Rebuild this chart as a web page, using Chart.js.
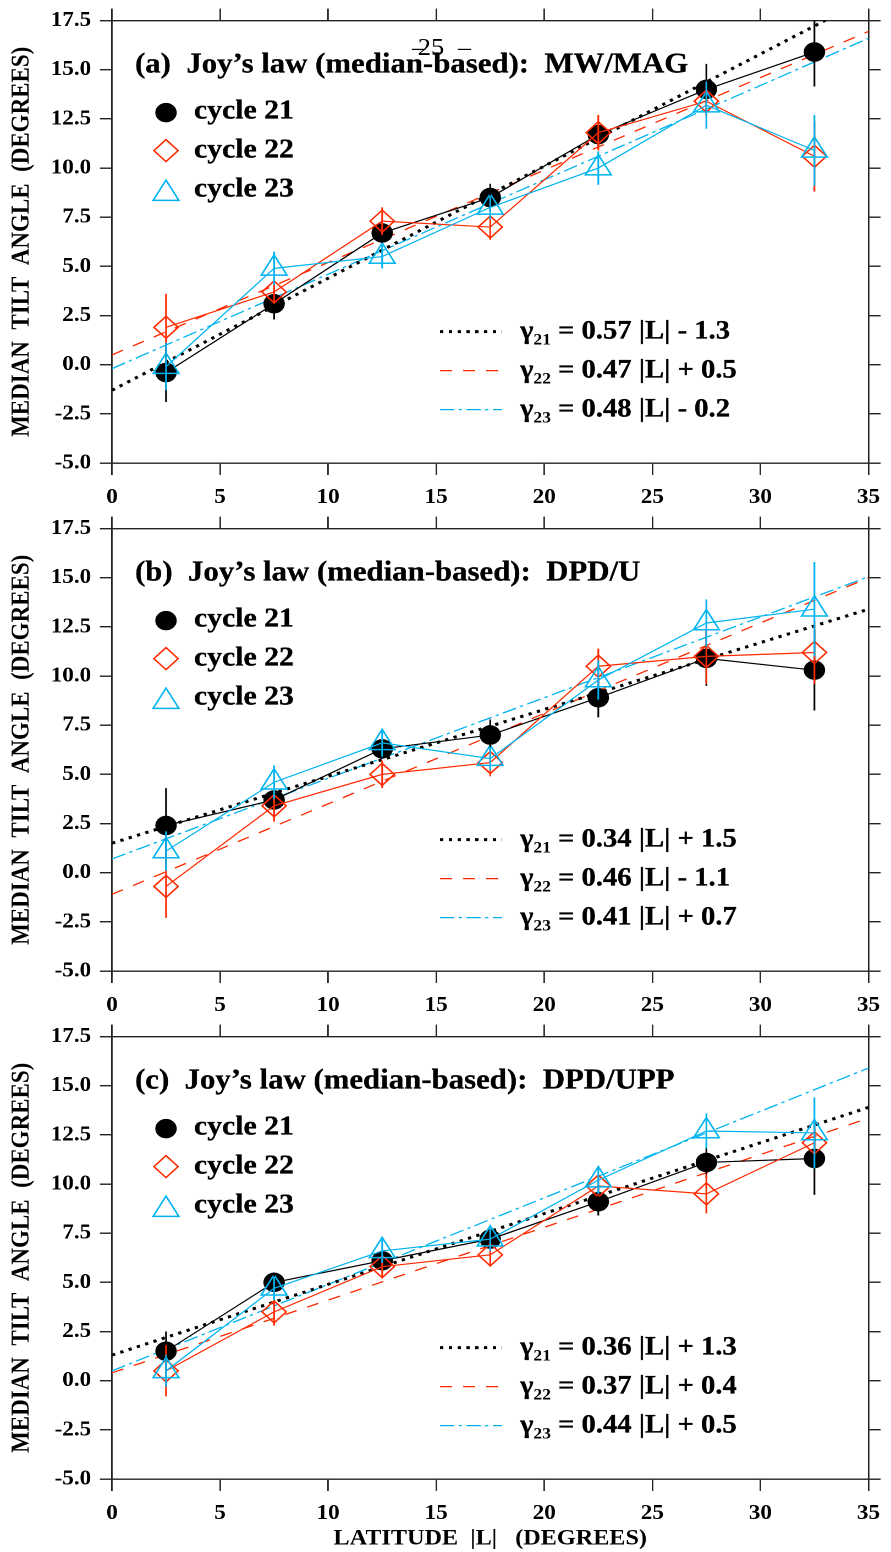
<!DOCTYPE html>
<html>
<head>
<meta charset="utf-8">
<script src="https://cdn.jsdelivr.net/npm/chart.js@4.4.1/dist/chart.umd.min.js"></script>
<style>
  html, body { margin: 0; padding: 0; background: #fff; }
  #wrap { position: relative; width: 891px; height: 1552px; overflow: hidden; }
  #wrap canvas { position: absolute; left: 0; }
</style>
</head>
<body>
<div id="wrap">
  <canvas id="panelA"></canvas>
  <canvas id="panelB"></canvas>
  <canvas id="panelC"></canvas>
</div>
<script>
// ---- data ----
const latitude = [2.5, 7.5, 12.5, 17.5, 22.5, 27.5, 32.5];
const cycleNames = ["cycle 21", "cycle 22", "cycle 23"];
const xTickValues = [0, 5, 10, 15, 20, 25, 30, 35];
const yTickValues = [-5, -2.5, 0, 2.5, 5, 7.5, 10, 12.5, 15, 17.5];
const fitRange = [0, 35];

// (a) MW/MAG
const mwC21 = [-0.4, 3.1, 6.7, 8.5, 11.7, 14.0, 15.9];
const mwC21Err = [1.5, 0.8, 0.5, 0.7, 0.6, 1.3, 1.75];
const mwC22 = [1.9, 3.7, 7.3, 7.0, 11.8, 13.4, 10.6];
const mwC22Err = [1.7, 0.6, 0.7, 0.65, 0.9, 0.8, 1.8];
const mwC23 = [-0.1, 4.9, 5.5, 8.0, 10.0, 13.2, 10.9];
const mwC23Err = [1.2, 0.85, 0.6, 0.6, 0.85, 1.2, 1.8];
const mwSlopes = [0.57, 0.47, 0.48];
const mwIntercepts = [-1.3, 0.5, -0.2];

// (b) DPD/U
const dpdUC21 = [2.4, 3.7, 6.3, 7.0, 8.9, 10.9, 10.3];
const dpdUC21Err = [1.9, 0.5, 0.5, 0.8, 1.0, 1.4, 2.05];
const dpdUC22 = [-0.7, 3.4, 5.0, 5.6, 10.5, 11.0, 11.2];
const dpdUC22Err = [1.6, 0.8, 0.7, 0.7, 0.9, 1.4, 1.6];
const dpdUC23 = [1.1, 4.6, 6.6, 5.8, 9.8, 12.7, 13.4];
const dpdUC23Err = [1.0, 0.85, 0.7, 0.6, 1.0, 1.2, 2.4];
const dpdUSlopes = [0.34, 0.46, 0.41];
const dpdUIntercepts = [1.5, -1.1, 0.7];

// (c) DPD/UPP
const dpdUppC21 = [1.5, 5.0, 6.1, 7.2, 9.1, 11.1, 11.3];
const dpdUppC21Err = [1.0, 0.5, 0.5, 0.5, 0.7, 0.8, 1.85];
const dpdUppC22 = [0.5, 3.5, 5.8, 6.4, 9.9, 9.5, 12.1];
const dpdUppC22Err = [1.3, 0.7, 0.5, 0.6, 0.5, 1.0, 0.7];
const dpdUppC23 = [0.5, 4.7, 6.6, 7.2, 10.2, 12.7, 12.6];
const dpdUppC23Err = [0.8, 0.6, 0.6, 0.6, 0.7, 0.9, 1.8];
const dpdUppSlopes = [0.36, 0.37, 0.44];
const dpdUppIntercepts = [1.3, 0.4, 0.5];

// ---- styles ----
const SERIF = "'Liberation Serif', 'Times New Roman', serif";
const INNER_W = 810;
const SX = 891 / INNER_W;        // the original figure is a bit stretched sideways
const seriesColors = ["#000000", "#ff2a00", "#00b4f0"];
const seriesStyles = [
  { pointStyle: "circle", radius: 9, fill: "#000000" },
  { pointStyle: "rectRot", radius: 11, fill: "rgba(0,0,0,0)" },
  { pointStyle: "triangle", radius: 13.5, fill: "rgba(0,0,0,0)" }
];
const fitStyles = [
  { width: 3, dash: [3, 5] },
  { width: 1.3, dash: [11, 10] },
  { width: 1.3, dash: [13, 4, 3, 4] }
];

Chart.defaults.color = "#000";
Chart.defaults.font.family = SERIF;

function fitLabel(a, b) {
  return " = " + a.toFixed(2) + " |L| " + (b < 0 ? "- " : "+ ") + Math.abs(b).toFixed(1);
}

// slightly heavier text, closer to the PostScript bold of the original
function boldText(ctx, text, x, y) {
  ctx.fillText(text, x, y);
  ctx.strokeText(text, x, y);
}

// error bars, panel title, legends and page number
const panelExtras = {
  id: "panelExtras",
  afterDatasetsDraw(chart) {
    const ctx = chart.ctx;
    const xs = chart.scales.x, ys = chart.scales.y;
    const area = chart.chartArea;
    ctx.save();
    ctx.beginPath();
    ctx.rect(area.left, area.top, area.right - area.left, area.bottom - area.top);
    ctx.clip();
    chart.data.datasets.forEach(ds => {
      if (!ds.errors) return;
      ctx.strokeStyle = ds.borderColor;
      ctx.lineWidth = 1.6;
      ds.data.forEach((p, j) => {
        const px = xs.getPixelForValue(p.x);
        ctx.beginPath();
        ctx.moveTo(px, ys.getPixelForValue(p.y - ds.errors[j]));
        ctx.lineTo(px, ys.getPixelForValue(p.y + ds.errors[j]));
        ctx.stroke();
      });
    });
    ctx.restore();
  },
  afterDraw(chart, args, opts) {
    const ctx = chart.ctx;
    const top = chart.chartArea.top;
    const textStroke = 0.3;
    ctx.save();
    ctx.fillStyle = "#000";
    ctx.strokeStyle = "#000";
    ctx.lineWidth = textStroke;
    ctx.textBaseline = "alphabetic";
    ctx.textAlign = "left";

    // panel title
    ctx.font = "bold 28px " + SERIF;
    boldText(ctx, opts.title, 122.7, top + 52);

    // marker legend
    const markerY = [92, 130, 173];
    for (let i = 0; i < 3; i++) {
      const st = seriesStyles[i];
      ctx.strokeStyle = seriesColors[i];
      ctx.fillStyle = st.fill;
      ctx.lineWidth = 1.5;
      Chart.helpers.drawPoint(ctx, { pointStyle: st.pointStyle, radius: st.radius, rotation: 0, borderWidth: 1.5 }, 150.9, top + markerY[i]);
      ctx.fillStyle = "#000";
      ctx.strokeStyle = "#000";
      ctx.lineWidth = textStroke;
      ctx.font = "bold 27px " + SERIF;
      boldText(ctx, cycleNames[i], 176.4, top + 98 + 39 * i);
    }

    // fit legend
    for (let i = 0; i < 3; i++) {
      const base = top + 318 + 39 * i;
      const fs = fitStyles[i];
      ctx.strokeStyle = seriesColors[i];
      ctx.lineWidth = fs.width;
      ctx.setLineDash(fs.dash);
      ctx.beginPath();
      ctx.moveTo(400, base - 7);
      ctx.lineTo(456.4, base - 7);
      ctx.stroke();
      ctx.setLineDash([]);
      ctx.strokeStyle = "#000";
      ctx.lineWidth = textStroke;
      let x = 472.7;
      ctx.font = "bold 26px " + SERIF;
      boldText(ctx, "\u03b3", x, base);
      x += ctx.measureText("\u03b3").width;
      ctx.font = "bold 16px " + SERIF;
      ctx.fillText(String(21 + i), x, base + 6);
      x += ctx.measureText(String(21 + i)).width;
      ctx.font = "bold 26px " + SERIF;
      boldText(ctx, fitLabel(opts.slopes[i], opts.intercepts[i]), x, base);
    }

    // page number of the source document
    if (opts.pageNumber) {
      ctx.font = "24px " + SERIF;
      ctx.textAlign = "center";
      ctx.fillText(opts.pageNumber, 391.8, 55);
      ctx.fillText("\u2013", 380.5, 55);
      ctx.fillText("\u2013", 422.3, 55);
    }
    ctx.restore();
  }
};

function seriesDataset(i, values, errors) {
  const st = seriesStyles[i];
  return {
    type: "line",
    label: cycleNames[i],
    data: latitude.map((x, j) => ({ x: x, y: values[j] })),
    errors: errors,
    borderColor: seriesColors[i],
    borderWidth: 1.2,
    pointStyle: st.pointStyle,
    pointRadius: st.radius,
    pointBackgroundColor: st.fill,
    pointBorderColor: seriesColors[i],
    pointBorderWidth: 1.5,
    tension: 0,
    fill: false,
    order: 3 - i
  };
}

function fitDataset(i, a, b) {
  const fs = fitStyles[i];
  return {
    type: "line",
    label: "fit " + cycleNames[i],
    data: fitRange.map(x => ({ x: x, y: a * x + b })),
    borderColor: seriesColors[i],
    borderWidth: fs.width,
    borderDash: fs.dash,
    pointRadius: 0,
    fill: false,
    order: 10 + i
  };
}

function setupPanel(canvasId, cssTop, cssHeight, bottomHeight, title, series, errs, slopes, intercepts, showXTitle, pageNumber) {
  const canvas = document.getElementById(canvasId);
  if (!canvas) {
    console.error("Canvas " + canvasId + " not found!");
    return null;
  }
  canvas.width = INNER_W;
  canvas.height = cssHeight;
  canvas.style.top = cssTop + "px";
  canvas.style.width = "891px";
  canvas.style.height = cssHeight + "px";

  const datasets = [];
  for (let i = 0; i < 3; i++) datasets.push(seriesDataset(i, series[i], errs[i]));
  for (let i = 0; i < 3; i++) datasets.push(fitDataset(i, slopes[i], intercepts[i]));

  const gridOpts = (len) => ({
    display: true, drawOnChartArea: false, drawTicks: true,
    tickLength: len, color: "#222", lineWidth: 1.4
  });
  const borderOpts = { display: true, color: "#222", width: 1.4 };
  const tickFont = { family: SERIF, size: 21, weight: "bold" };

  return new Chart(canvas.getContext("2d"), {
    type: "line",
    data: { datasets: datasets },
    plugins: [panelExtras],
    options: {
      responsive: false,
      devicePixelRatio: 2,
      animation: false,
      events: [],
      layout: { padding: 0 },
      plugins: {
        legend: { display: false },
        tooltip: { enabled: false },
        panelExtras: { title: title, slopes: slopes, intercepts: intercepts, pageNumber: pageNumber }
      },
      scales: {
        x: {
          type: "linear", position: "bottom", min: 0, max: 35,
          afterBuildTicks: s => { s.ticks = xTickValues.map(v => ({ value: v })); },
          afterFit: s => { s.height = bottomHeight; },
          grid: gridOpts(12), border: borderOpts,
          ticks: { font: tickFont, padding: 10, maxRotation: 0, autoSkip: false },
          title: {
            display: showXTitle, text: "LATITUDE  |L|   (DEGREES)",
            font: { family: SERIF, size: 22, weight: "bold" },
            padding: { top: 0, bottom: 0 }
          }
        },
        x2: {
          type: "linear", position: "top", min: 0, max: 35,
          afterBuildTicks: s => { s.ticks = xTickValues.map(v => ({ value: v })); },
          afterFit: s => { s.height = 17; },
          grid: gridOpts(12), border: borderOpts,
          ticks: { display: false }
        },
        y: {
          type: "linear", position: "left", min: -5, max: 17.5,
          afterBuildTicks: s => { s.ticks = yTickValues.map(v => ({ value: v })); },
          afterFit: s => { s.width = 112 / SX; },
          grid: gridOpts(11), border: borderOpts,
          ticks: { font: tickFont, padding: 8, callback: v => Number(v).toFixed(1) },
          title: {
            display: true, text: "MEDIAN  TILT  ANGLE  (DEGREES)",
            font: { family: SERIF, size: 23, weight: "bold" },
            padding: { top: 6.5, bottom: 0 }
          }
        },
        y2: {
          type: "linear", position: "right", min: -5, max: 17.5,
          afterBuildTicks: s => { s.ticks = yTickValues.map(v => ({ value: v })); },
          afterFit: s => { s.width = INNER_W - 877 / SX; },
          grid: gridOpts(11), border: borderOpts,
          ticks: { display: false }
        }
      }
    }
  });
}

const chartA = setupPanel("panelA", 0, 508, 45,
  "(a)  Joy\u2019s law (median-based):  MW/MAG",
  [mwC21, mwC22, mwC23], [mwC21Err, mwC22Err, mwC23Err],
  mwSlopes, mwIntercepts, false, "25");
const chartB = setupPanel("panelB", 508, 508, 45,
  "(b)  Joy\u2019s law (median-based):  DPD/U",
  [dpdUC21, dpdUC22, dpdUC23], [dpdUC21Err, dpdUC22Err, dpdUC23Err],
  dpdUSlopes, dpdUIntercepts, false, null);
const chartC = setupPanel("panelC", 1016, 536, 73,
  "(c)  Joy\u2019s law (median-based):  DPD/UPP",
  [dpdUppC21, dpdUppC22, dpdUppC23], [dpdUppC21Err, dpdUppC22Err, dpdUppC23Err],
  dpdUppSlopes, dpdUppIntercepts, true, null);
</script>
</body>
</html>
